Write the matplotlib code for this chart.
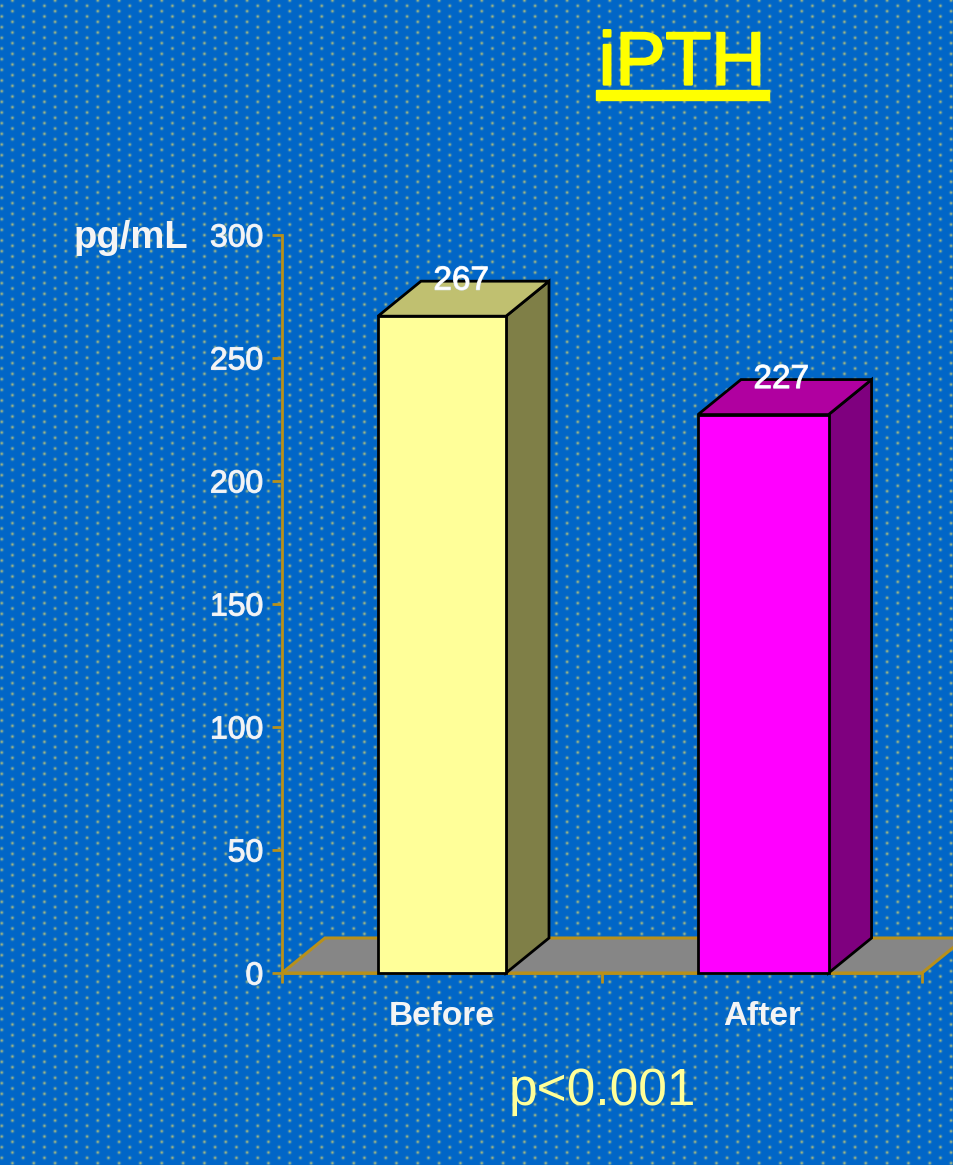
import numpy as np
import matplotlib
matplotlib.use("Agg")
import matplotlib.pyplot as plt
import matplotlib.patheffects as pe
from matplotlib.patches import Polygon

plt.rcParams["font.family"] = ["Liberation Sans", "DejaVu Sans"]

categories = ["Before", "After"]
values = [267, 227]
front_colors = ["#ffff99", "#ff00ff"]
top_colors = ["#c0c070", "#b000a0"]
side_colors = ["#7f7f47", "#7f007f"]
yticks = [0, 50, 100, 150, 200, 250, 300]

BG = np.array([1, 102, 200]) / 255
DOT = np.array([175, 190, 125]) / 255
AXIS = "#b8901a"
W, H = 954, 1165

# dotted slide background
yy, xx = np.mgrid[0:H, 0:W]
u = xx / (64 / 3)
v = yy / (64 / 3)
dist = np.full((H, W), 99.0)
for ox, oy in [(0.56, 0.0), (0.06, 0.25), (0.56, 0.5), (0.06, 0.75)]:
    dx = (u - ox + 0.5) % 1 - 0.5
    dy = (v - oy + 0.5) % 1 - 0.5
    dist = np.minimum(dist, np.hypot(dx, dy) * 64 / 3)
alpha = (0.9 * np.exp(-(dist / 1.5) ** 2))[..., None]
bg = BG * (1 - alpha) + DOT * alpha

fig = plt.figure(figsize=(W / 100, H / 100), dpi=100)
fig.figimage(bg, 0, 0, origin="upper", zorder=-1)

ax = fig.add_axes([282 / W, (H - 973) / H, 640 / W, 738 / H])
ax.patch.set_alpha(0)
ax.set_xlim(0, 2)
ax.set_ylim(0, 300)

# depth of the 3D box in data units
DX = 43 / 320
DY = 35 / 738 * 300

# thin halo that thickens the soft white lettering
soft = [pe.withStroke(linewidth=0.8, foreground="#dce8f8")]


def box(x0, x1, top, front, side, cap):
    ax.add_patch(Polygon([(x1, 0), (x1 + DX, DY), (x1 + DX, top + DY), (x1, top)],
                         fc=side, ec="black", lw=2, clip_on=False, zorder=4))
    ax.add_patch(Polygon([(x0, top), (x0 + DX, top + DY), (x1 + DX, top + DY), (x1, top)],
                         fc=cap, ec="black", lw=2, clip_on=False, zorder=4))
    ax.add_patch(Polygon([(x0, 0), (x0, top), (x1, top), (x1, 0)],
                         fc=front, ec="black", lw=2, clip_on=False, zorder=5))


# floor, running off the right edge of the slide
ax.add_patch(Polygon([(0, 0), (DX, DY), (2 + DX, DY), (2, 0)], fc="#868686",
                     ec=AXIS, lw=2.2, clip_on=False, zorder=2))

for i, val in enumerate(values):
    c = i + 0.5
    box(c - 0.2, c + 0.2 + 0.008 * i, val, front_colors[i], side_colors[i], top_colors[i])
    ax.text(c + 0.06, val + DY, str(val), color="white", fontsize=24,
            ha="center", va="center", zorder=6, path_effects=soft)

for s in ["top", "right"]:
    ax.spines[s].set_visible(False)
for s in ["left", "bottom"]:
    ax.spines[s].set_color(AXIS)
    ax.spines[s].set_linewidth(2)
    ax.spines[s].set_zorder(3)

ax.set_yticks(yticks)
ax.set_xticks([0.5, 1.5])
ax.set_xticklabels(categories)
ax.tick_params(axis="y", length=7, width=2, color=AXIS, labelcolor="#f4f4f4",
               labelsize=23, pad=6.5)
ax.tick_params(axis="x", length=0, labelcolor="#f4f4f4", labelsize=24, pad=20)
for lab in ax.get_xticklabels():
    lab.set_fontweight("bold")
for lab in ax.get_yticklabels():
    lab.set_path_effects(soft)
# small marks at the category boundaries
ax.set_xticks([0, 1, 2], minor=True)
ax.tick_params(axis="x", which="minor", length=7, width=2, color=AXIS)

fig.text(131 / W, 1 - 238 / H, "pg/mL", color="#f4f4f4", fontsize=27.5,
         fontweight="bold", ha="center", va="center")
fig.text(682 / W, 1 - 65 / H, "iPTH", color="#ffff00", fontsize=54,
         ha="center", va="center",
         path_effects=[pe.withStroke(linewidth=1.6, foreground="#ffff00")])
fig.add_artist(plt.Rectangle((596 / W, 1 - 100 / H), 173 / W, 10 / H,
                             color="#ffff00", transform=fig.transFigure))
fig.text(602 / W, 1 - 1091 / H, "p<0.001", color="#ffff99", fontsize=37,
         ha="center", va="center")

fig.savefig("out.png", dpi=100)
